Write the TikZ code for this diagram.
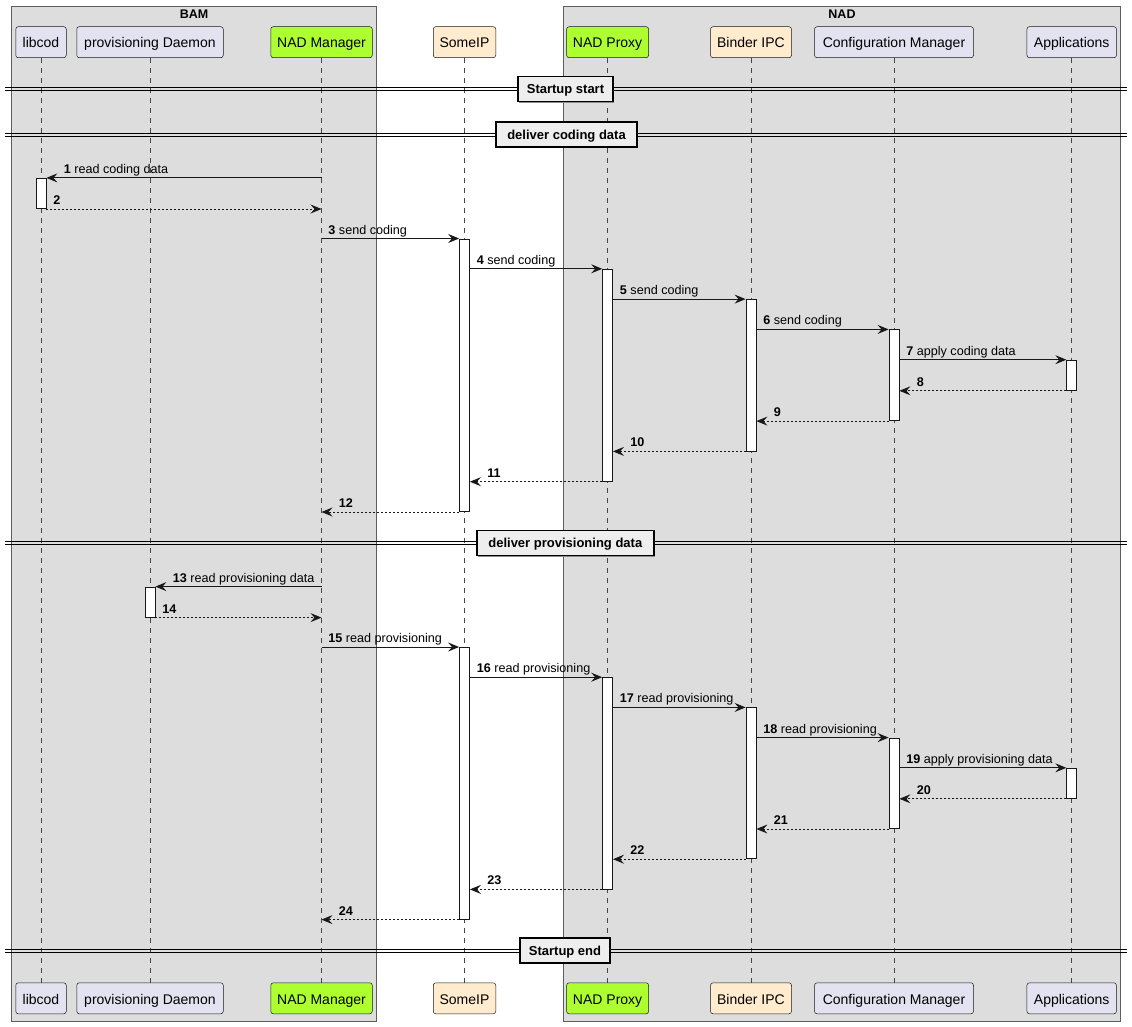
\documentclass[tikz,border=0pt]{standalone}
\usepackage{fontspec}
\setmainfont{Liberation Sans}
\usetikzlibrary{arrows.meta,shadows}
\definecolor{partfill}{HTML}{E2E2F0}
\definecolor{nadgreen}{HTML}{ADFF2F}
\definecolor{beige}{HTML}{FFEBCD}
\definecolor{boxgray}{HTML}{DDDDDD}
\definecolor{divfill}{HTML}{EEEEEE}
\definecolor{ink}{HTML}{181818}
\tikzset{
  part/.style={draw=ink, line width=0.5pt, rounded corners=2.5pt, fill=partfill,
    minimum height=31pt, inner sep=0pt, text height=11.5pt, text depth=0pt,
    font=\fontsize{14}{16}\selectfont},
  grp/.style={draw=ink!70, line width=0.6pt, fill=boxgray},
  grptitle/.style={font=\bfseries\fontsize{12.5}{14}\selectfont, inner sep=0pt},
  lifeline/.style={draw=ink!80, line width=0.5pt, dash pattern=on 5pt off 5pt},
  act/.style={draw=ink, line width=0.8pt, fill=white, minimum width=10pt, inner sep=0pt},
  call/.style={draw=ink, line width=0.9pt, -{Stealth[length=11pt,width=9pt,inset=4pt]}},
  ret/.style={call, dash pattern=on 2pt off 2pt},
  lbl/.style={font=\fontsize{12.6}{15}\selectfont, inner sep=0pt, anchor=base west},
  rlbl/.style={lbl, xshift=6.5pt, yshift=4.5pt},
  llbl/.style={lbl, xshift=17pt, yshift=4.5pt},
  divline/.style={draw=black, line width=0.9pt},
  divlbl/.style={draw=black, line width=1.5pt, fill=divfill,
    font=\bfseries\fontsize{13}{15}\selectfont, minimum height=25pt,
    inner xsep=0pt, inner ysep=0pt, text height=9.5pt, text depth=0pt,
    drop shadow={shadow xshift=1.2pt, shadow yshift=-1.2pt, fill=black!45, opacity=1}},
}
\begin{document}
\begin{tikzpicture}[x=1pt,y=-1pt]
\useasboundingbox (0,0) rectangle (1132,1026);
\fill[white] (0,0) rectangle (1132,1026);

% groups
\draw[grp] (11.7,6) rectangle (376.7,1021);
\draw[grp] (563.3,6) rectangle (1120.5,1021);
\node[grptitle] (tBAM) at (194,14.2) {BAM};
\node[grptitle] (tNAD) at (842,14.2) {NAD};

% participants
\node[part, minimum width=50.5pt] (libT) at (41,42.2) {libcod};
\node[part, minimum width=146.5pt] (proT) at (150,42.2) {provisioning Daemon};
\node[part, minimum width=101.5pt, fill=nadgreen] (nmT) at (321.5,42.2) {NAD Manager};
\node[part, minimum width=62.5pt, fill=beige] (siT) at (464.5,42.2) {SomeIP};
\node[part, minimum width=82pt, fill=nadgreen] (npT) at (607.6,42.2) {NAD Proxy};
\node[part, minimum width=81pt, fill=beige] (biT) at (751,42.2) {Binder IPC};
\node[part, minimum width=159pt] (cmT) at (894,42.2) {Configuration Manager};
\node[part, minimum width=89.5pt] (apT) at (1071.7,42.2) {Applications};

\node[part, minimum width=50.5pt] (libB) at (41,998.3) {libcod};
\node[part, minimum width=146.5pt] (proB) at (150,998.3) {provisioning Daemon};
\node[part, minimum width=101.5pt, fill=nadgreen] (nmB) at (321.5,998.3) {NAD Manager};
\node[part, minimum width=62.5pt, fill=beige] (siB) at (464.5,998.3) {SomeIP};
\node[part, minimum width=82pt, fill=nadgreen] (npB) at (607.6,998.3) {NAD Proxy};
\node[part, minimum width=81pt, fill=beige] (biB) at (751,998.3) {Binder IPC};
\node[part, minimum width=159pt] (cmB) at (894,998.3) {Configuration Manager};
\node[part, minimum width=89.5pt] (apB) at (1071.7,998.3) {Applications};

% lifelines
\draw[lifeline] (libT) -- (libB);
\draw[lifeline] (proT) -- (proB);
\draw[lifeline] (nmT) -- (nmB);
\draw[lifeline] (siT) -- (siB);
\draw[lifeline] (npT) -- (npB);
\draw[lifeline] (biT) -- (biB);
\draw[lifeline] (cmT) -- (cmB);
\draw[lifeline] (apT) -- (apB);

% dividers
\foreach \yy in {89.2,134.7,543,950.7}{
  \draw[divline] (5,\yy-1.5) -- (1127,\yy-1.5);
  \draw[divline] (5,\yy+1.5) -- (1127,\yy+1.5);
}
\node[divlbl, minimum width=95pt] (dStart) at (565.5,89.2) {Startup start};
\node[divlbl, minimum width=141pt] (dCod) at (566.5,134.7) {deliver coding data};
\node[divlbl, minimum width=177pt] (dProv) at (565.3,543) {deliver provisioning data};
\node[divlbl, minimum width=90pt] (dEnd) at (565,950.7) {Startup end};

% activation bars: coding
\node[act, minimum height=30.3pt] (aL) at (41,193.45) {};
\node[act, minimum height=272.7pt] (aS1) at (464.5,375.25) {};
\node[act, minimum height=212.1pt] (aP1) at (607.6,375.25) {};
\node[act, minimum height=151.5pt] (aB1) at (751,375.25) {};
\node[act, minimum height=90.9pt] (aC1) at (894,375.25) {};
\node[act, minimum height=30.3pt] (aA1) at (1071.7,375.25) {};
% activation bars: provisioning
\node[act, minimum height=30.2pt] (aD) at (150,602.1) {};
\node[act, minimum height=271.8pt] (aS2) at (464.5,783.3) {};
\node[act, minimum height=211.4pt] (aP2) at (607.6,783.3) {};
\node[act, minimum height=151pt] (aB2) at (751,783.3) {};
\node[act, minimum height=90.6pt] (aC2) at (894,783.3) {};
\node[act, minimum height=30.2pt] (aA2) at (1071.7,783.3) {};

% messages: coding
\draw[call] (nmT.south |- aL.north) -- node[at end, llbl] {\textbf{1} read coding data} (aL.north east);
\draw[ret] (aL.south east) -- node[at start, rlbl] {\textbf{2}} (nmT.south |- aL.south);
\draw[call] (nmT.south |- aS1.north) -- node[at start, rlbl] {\textbf{3} send coding} (aS1.north west);
\draw[call] (aS1.east |- aP1.north) -- node[at start, rlbl] {\textbf{4} send coding} (aP1.north west);
\draw[call] (aP1.east |- aB1.north) -- node[at start, rlbl] {\textbf{5} send coding} (aB1.north west);
\draw[call] (aB1.east |- aC1.north) -- node[at start, rlbl] {\textbf{6} send coding} (aC1.north west);
\draw[call] (aC1.east |- aA1.north) -- node[at start, rlbl] {\textbf{7} apply coding data} (aA1.north west);
\draw[ret] (aA1.south west) -- node[at end, llbl] {\textbf{8}} (aC1.east |- aA1.south);
\draw[ret] (aC1.south west) -- node[at end, llbl] {\textbf{9}} (aB1.east |- aC1.south);
\draw[ret] (aB1.south west) -- node[at end, llbl] {\textbf{10}} (aP1.east |- aB1.south);
\draw[ret] (aP1.south west) -- node[at end, llbl] {\textbf{11}} (aS1.east |- aP1.south);
\draw[ret] (aS1.south west) -- node[at end, llbl] {\textbf{12}} (nmT.south |- aS1.south);

% messages: provisioning
\draw[call] (nmT.south |- aD.north) -- node[at end, llbl] {\textbf{13} read provisioning data} (aD.north east);
\draw[ret] (aD.south east) -- node[at start, rlbl] {\textbf{14}} (nmT.south |- aD.south);
\draw[call] (nmT.south |- aS2.north) -- node[at start, rlbl] {\textbf{15} read provisioning} (aS2.north west);
\draw[call] (aS2.east |- aP2.north) -- node[at start, rlbl] {\textbf{16} read provisioning} (aP2.north west);
\draw[call] (aP2.east |- aB2.north) -- node[at start, rlbl] {\textbf{17} read provisioning} (aB2.north west);
\draw[call] (aB2.east |- aC2.north) -- node[at start, rlbl] {\textbf{18} read provisioning} (aC2.north west);
\draw[call] (aC2.east |- aA2.north) -- node[at start, rlbl] {\textbf{19} apply provisioning data} (aA2.north west);
\draw[ret] (aA2.south west) -- node[at end, llbl] {\textbf{20}} (aC2.east |- aA2.south);
\draw[ret] (aC2.south west) -- node[at end, llbl] {\textbf{21}} (aB2.east |- aC2.south);
\draw[ret] (aB2.south west) -- node[at end, llbl] {\textbf{22}} (aP2.east |- aB2.south);
\draw[ret] (aP2.south west) -- node[at end, llbl] {\textbf{23}} (aS2.east |- aP2.south);
\draw[ret] (aS2.south west) -- node[at end, llbl] {\textbf{24}} (nmT.south |- aS2.south);
\end{tikzpicture}
\end{document}
